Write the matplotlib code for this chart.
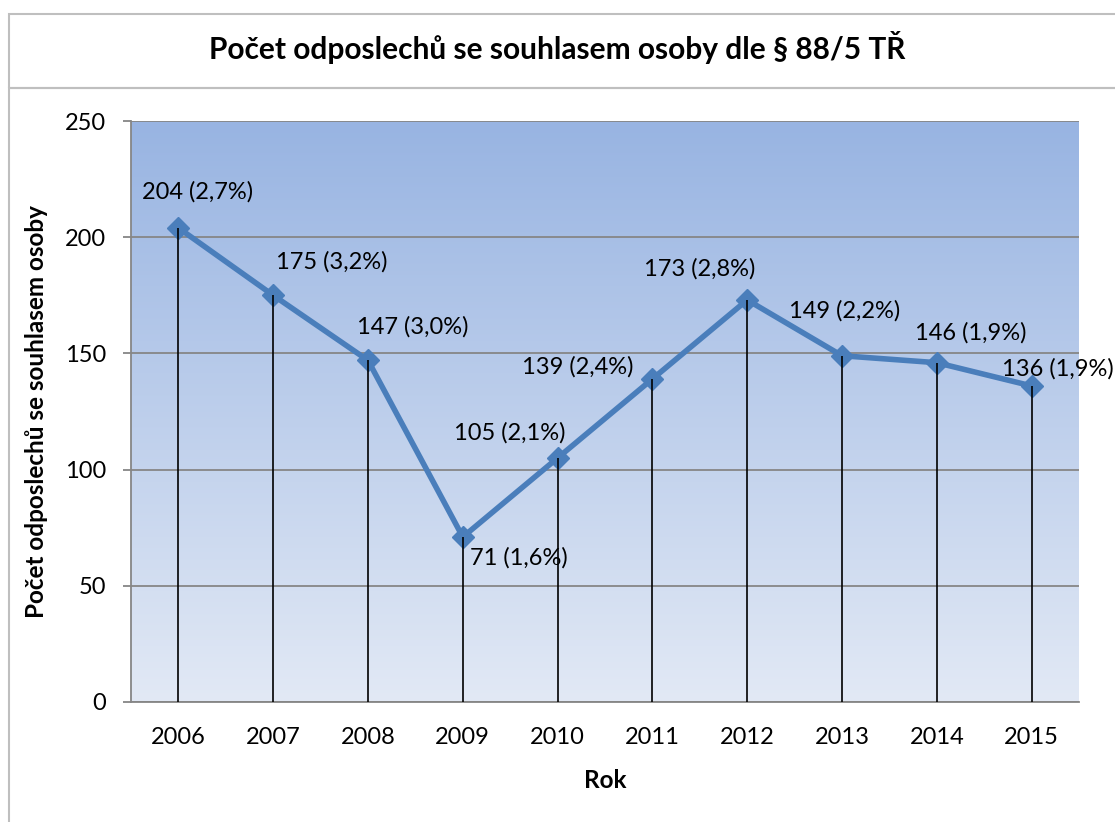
import numpy as np
import matplotlib
matplotlib.use("Agg")
import matplotlib.pyplot as plt
from matplotlib.colors import LinearSegmentedColormap
from matplotlib.patches import Rectangle

plt.rcParams['font.family'] = ['Lato', 'DejaVu Sans']

# Data
years = ["2006", "2007", "2008", "2009", "2010", "2011", "2012", "2013", "2014", "2015"]
counts = [204, 175, 147, 71, 105, 139, 173, 149, 146, 136]
shares = ["2,7%", "3,2%", "3,0%", "1,6%", "2,1%", "2,4%", "2,8%", "2,2%", "1,9%", "1,9%"]

title = "Počet odposlechů se souhlasem osoby dle § 88/5 TŘ"
xlabel = "Rok"
ylabel = "Počet odposlechů se souhlasem osoby"

# label placement (pixel offsets from each point, manual like in the original)
label_dx = [19, 59, 45, 56, -48, -75, -48, 3, 34, 26]
label_dy = [36, 33, 34, -21, 25, 12, 31, 45, 30, 17]

W, H = 1115, 822
fig = plt.figure(figsize=(W / 100, H / 100), dpi=100)
fig.patch.set_facecolor("white")

# chart frames (title box + plot box)
border = "#BFBFBF"
fig.add_artist(Rectangle((9 / W, 1 - 88 / H), 1.2, 74 / H, transform=fig.transFigure,
                         fill=False, edgecolor=border, linewidth=1.5))
fig.add_artist(Rectangle((9 / W, -0.1), 1.2, 0.1 + 1 - 88 / H, transform=fig.transFigure,
                         fill=False, edgecolor=border, linewidth=1.5))
fig.text(0.5, 1 - 48 / H, title, ha="center", va="center", fontsize=21.5, weight="bold")

left, right, top, bottom = 131, 1079, 121, 702
ax = fig.add_axes([left / W, 1 - bottom / H, (right - left) / W, (bottom - top) / H])

x = np.arange(len(years))
ax.set_xlim(-0.5, len(years) - 0.5)
ax.set_ylim(0, 250)

# gradient plot background
grad = LinearSegmentedColormap.from_list("bg", ["#E2E9F5", "#98B4E2"])
ax.imshow(np.linspace(0, 1, 256).reshape(-1, 1), aspect="auto", cmap=grad, origin="lower",
          extent=(-0.5, len(years) - 0.5, 0, 250), zorder=0)

ax.set_yticks(np.arange(0, 251, 50))
ax.yaxis.grid(True, color="#868686", linewidth=1.3, zorder=1)
ax.set_axisbelow(False)

ax.plot(x, counts, color="#4A7EBB", linewidth=4, marker="D", markersize=11, zorder=3)
ax.vlines(x, 0, counts, color="black", linewidth=1.2, zorder=4)

for i in range(len(years)):
    ax.annotate(f"{counts[i]} ({shares[i]})", (x[i], counts[i]),
                xytext=(label_dx[i], label_dy[i]), textcoords="offset pixels",
                ha="center", va="center", fontsize=17, zorder=5, annotation_clip=False)

ax.set_xticks(x)
ax.set_xticklabels(years)
ax.tick_params(axis="x", length=0, labelsize=17, pad=18)
ax.tick_params(axis="y", length=6, color="#868686", width=1.3, labelsize=17, pad=12)

for s in ["top", "right"]:
    ax.spines[s].set_visible(False)
for s in ["left", "bottom"]:
    ax.spines[s].set_color("#868686")
    ax.spines[s].set_linewidth(1.3)

ax.set_xlabel(xlabel, fontsize=17.5, weight="bold", labelpad=15)
ax.set_ylabel(ylabel, fontsize=17.5, weight="bold", labelpad=12)

fig.savefig("out.png", dpi=100)
